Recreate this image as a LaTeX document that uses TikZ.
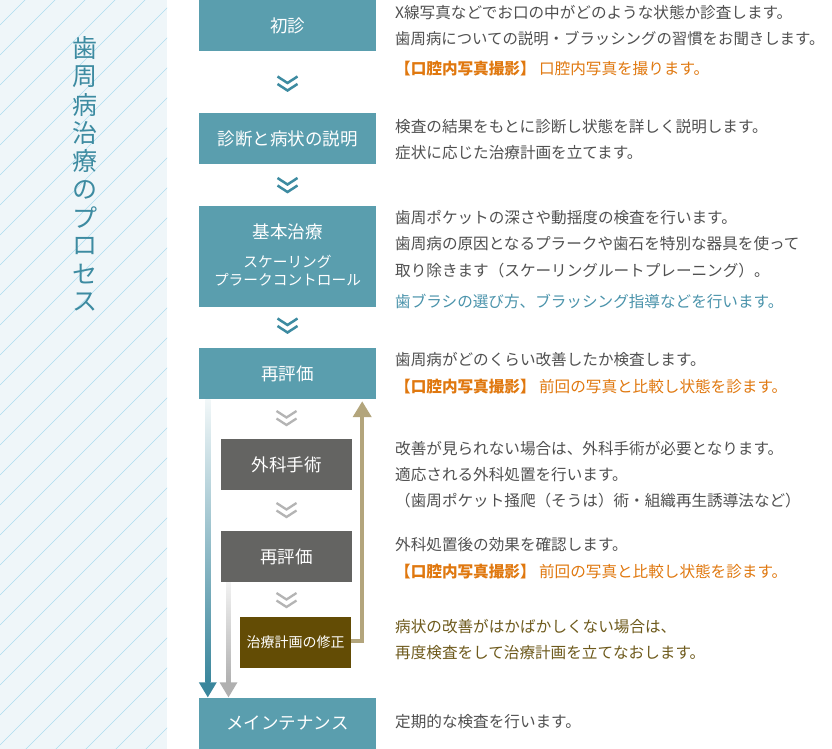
\documentclass[tikz,border=0pt]{standalone}
\usepackage{fontspec}
\setmainfont{Noto Sans CJK JP}
\usetikzlibrary{calc,arrows.meta}
\definecolor{teal1}{HTML}{5A9EAE}
\definecolor{tealdark}{HTML}{3D8BA1}
\definecolor{tealarrow}{HTML}{3A869C}
\definecolor{grbox}{HTML}{646462}
\definecolor{brbox}{HTML}{634C05}
\definecolor{tan1}{HTML}{B3A57C}
\definecolor{chevgray}{HTML}{B4B4B4}
\definecolor{grayarrow}{HTML}{B0B0B0}
\definecolor{txt}{HTML}{505050}
\definecolor{orng}{HTML}{E0780F}
\definecolor{bltxt}{HTML}{4A93AB}
\definecolor{brtxt}{HTML}{6E5A1C}
\definecolor{panel}{HTML}{EFF6F9}
\definecolor{panelline}{HTML}{AEDDEF}
\tikzset{
  box/.style={rectangle, fill=teal1, text=white, inner sep=0pt,
    minimum width=177pt, minimum height=51pt,
    font=\fontsize{17.5}{20}\selectfont, align=center},
  graybox/.style={box, fill=grbox, minimum width=131pt},
  brownbox/.style={box, fill=brbox, minimum width=111pt, font=\fontsize{14}{16}\selectfont},
  desc/.style={anchor=west, inner sep=0pt, text=txt, font=\fontsize{15.6}{18}\selectfont},
  odesc/.style={desc, text=orng},
  bdesc/.style={desc, text=bltxt},
  brdesc/.style={desc, text=brtxt},
  titlechar/.style={inner sep=0pt, text=tealdark, font=\fontsize{25}{28}\selectfont},
  tchev/.pic={\draw[tealdark, line width=2.5pt, line join=miter]
      (-10,-7.5) -- (0,-1) -- (10,-7.5) (-10,0) -- (0,6.5) -- (10,0);},
  gchev/.pic={\draw[chevgray, line width=2.3pt, line join=miter]
      (-10,-7.5) -- (0,-1) -- (10,-7.5) (-10,0) -- (0,6.5) -- (10,0);},
  tanline/.style={tan1, line width=4pt, line join=miter,
      -{Triangle[width=18pt,length=16pt]}},
}
\begin{document}
\begin{tikzpicture}[x=1pt,y=-1pt]
\useasboundingbox (0,0) rectangle (832,749);
\fill[white] (0,0) rectangle (832,749);
% left panel
\fill[panel] (0,0) rectangle (167,749);
\begin{scope}
  \clip (0,0) rectangle (167,749);
  \foreach \k in {0,...,31}
    \draw[panelline, line width=0.6pt] (0,25+30*\k) -- ++(260,-260);
\end{scope}
% vertical title
\foreach \c [count=\i from 0] in {歯,周,病,治,療,の,プ,ロ,セ,ス}
  \node[titlechar] (title\i) at (85,48.5+28.2*\i) {\c};

% boxes
\node[box] (shoshin) at (287.5,25.5) {初診};
\node[box] (shindan) at (287.5,138.5) {診断と病状の説明};
\node[box, minimum height=101pt] (kihon) at (287.5,256.5) {};
\node[text=white, inner sep=0pt, font=\fontsize{17.5}{20}\selectfont] (kihonA) at (287.5,232) {基本治療};
\node[text=white, inner sep=0pt, font=\fontsize{14.7}{17}\selectfont] (kihonB) at (287.5,262) {スケーリング};
\node[text=white, inner sep=0pt, font=\fontsize{14.7}{17}\selectfont] (kihonC) at (287.5,279.5) {プラークコントロール};
\node[box] (reeval) at (287.5,373.5) {再評価};
\node[graybox] (geka) at (286.5,464.5) {外科手術};
\node[graybox] (reeval2) at (286.5,556.5) {再評価};
\node[brownbox] (shusei) at (295.5,642.5) {治療計画の修正};
\node[box] (maint) at (287.5,723.5) {メインテナンス};

% chevrons
\pic at (287.5,84) {tchev};
\pic at (287.5,185.5) {tchev};
\pic at (287.5,326) {tchev};
\pic at (286.5,418.5) {gchev};
\pic at (286.5,510.5) {gchev};
\pic at (286.5,600.5) {gchev};

% teal arrow reeval -> maint
\coordinate (tA) at ($(reeval.south west)+(9,0)$);
\coordinate (tB) at ($(maint.north west)+(9,0)$);
\shade[top color=white!92!teal1, bottom color=tealarrow]
  ($(tA)+(-2.5,0)$) rectangle ($(tB)+(2.5,-15)$);
\fill[tealarrow] ($(tB)+(-9,-15.5)$) -- ($(tB)+(9,-15.5)$) -- ($(tB)+(0,-0.5)$) -- cycle;

% gray arrow reeval2 -> maint
\coordinate (gA) at ($(reeval2.south west)+(7.7,0)$);
\coordinate (gB) at ($(maint.north west)+(29.7,0)$);
\shade[top color=white!95!black, bottom color=grayarrow]
  ($(gA)+(-2.4,0)$) rectangle ($(gB)+(2.4,-15)$);
\fill[grayarrow] ($(gB)+(-9,-15.5)$) -- ($(gB)+(9,-15.5)$) -- ($(gB)+(0,-0.5)$) -- cycle;

% tan arrow shusei -> reeval
\coordinate (tanTop) at ($(reeval.south east)+(-14,2)$);
\draw[tanline] ($(shusei.east)+(0,-1.5)$) -| (tanTop);

% descriptions
\node[desc] (d1a) at (395,13) {X線写真などでお口の中がどのような状態か診査します。};
\node[desc, font=\fontsize{15.4}{18}\selectfont] (d1b) at (395,39) {歯周病についての説明・ブラッシングの習慣をお聞きします。};
\node[odesc] (d1c) at (395,69) {{\bfseries 【口腔内写真撮影】} 口腔内写真を撮ります。};
\node[desc] (d2a) at (395,127) {検査の結果をもとに診断し状態を詳しく説明します。};
\node[desc] (d2b) at (395,153) {症状に応じた治療計画を立てます。};
\node[desc] (d3a) at (395,218) {歯周ポケットの深さや動揺度の検査を行います。};
\node[desc] (d3b) at (395,244) {歯周病の原因となるプラークや歯石を特別な器具を使って};
\node[desc] (d3c) at (395,271) {取り除きます（スケーリングルートプレーニング）。};
\node[bdesc] (d3d) at (395,301) {歯ブラシの選び方、ブラッシング指導などを行います。};
\node[desc] (d4a) at (395,360) {歯周病がどのくらい改善したか検査します。};
\node[odesc] (d4b) at (395,387) {{\bfseries 【口腔内写真撮影】} 前回の写真と比較し状態を診ます。};
\node[desc] (d5a) at (395,449) {改善が見られない場合は、外科手術が必要となります。};
\node[desc] (d5b) at (395,475) {適応される外科処置を行います。};
\node[desc] (d5c) at (395,501) {（歯周ポケット掻爬（そうは）術・組織再生誘導法など）};
\node[desc] (d6a) at (395,545) {外科処置後の効果を確認します。};
\node[odesc] (d6b) at (395,572) {{\bfseries 【口腔内写真撮影】} 前回の写真と比較し状態を診ます。};
\node[brdesc] (d7a) at (395,627) {病状の改善がはかばかしくない場合は、};
\node[brdesc] (d7b) at (395,653) {再度検査をして治療計画を立てなおします。};
\node[desc] (d8a) at (395,722) {定期的な検査を行います。};
\end{tikzpicture}
\end{document}
